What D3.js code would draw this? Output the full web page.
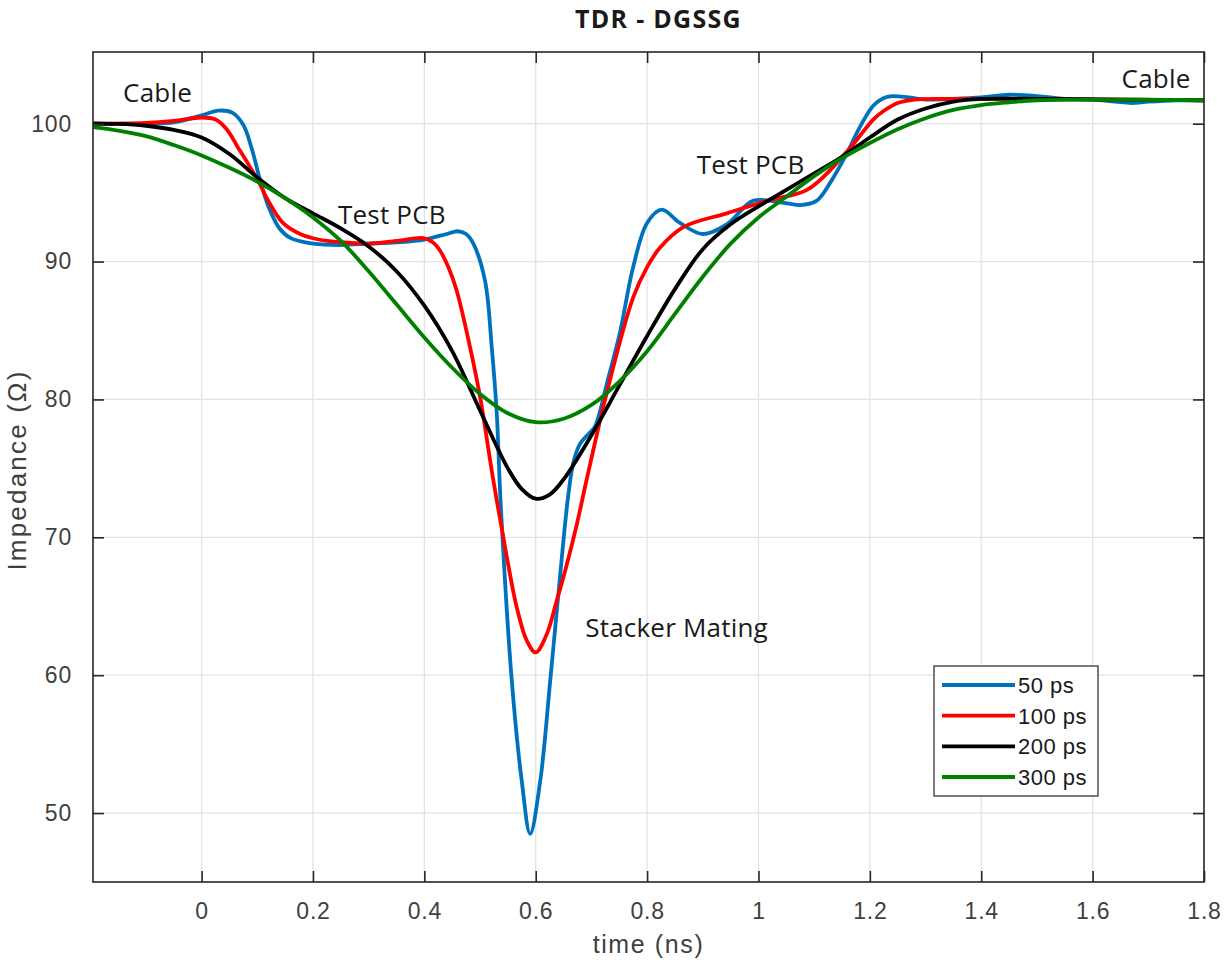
<!DOCTYPE html>
<html><head><meta charset="utf-8">
<script src="https://cdn.jsdelivr.net/npm/d3@7"></script>
<style>
html,body{margin:0;padding:0;background:#fff;}
svg{display:block;}
</style></head>
<body>
<script>
// ---- data ----
const seriesNames = ["50 ps", "100 ps", "200 ps", "300 ps"];
const seriesColors = ["#0072BD", "#FF0000", "#000000", "#008000"];

const t50 = [-0.195,-0.1,-0.05,0,0.03,0.055,0.075,0.09,0.105,0.12,0.14,0.16,0.2,0.25,0.3,0.35,0.4,0.44,0.46,0.475,0.488,0.509,0.521,0.53,0.537,0.557,0.575,0.59,0.608,0.626,0.643,0.658,0.668,0.68,0.695,0.706,0.73,0.751,0.775,0.8,0.826,0.859,0.9,0.943,0.99,1.039,1.075,1.104,1.13,1.158,1.182,1.206,1.224,1.24,1.27,1.3,1.35,1.4,1.45,1.5,1.55,1.6,1.64,1.67,1.7,1.75,1.8];
const z50 = [100,100,100.1,100.6,100.95,100.8,99.9,98.2,95.9,94.0,92.4,91.7,91.3,91.2,91.3,91.4,91.6,92.0,92.2,92.0,91.3,88.6,83.8,79.0,72.5,59.6,52.3,48.5,52.3,59.6,66.9,72.9,75.5,76.8,77.5,78.0,81.5,84.8,89.6,92.8,93.76,92.8,92.0,92.7,94.4,94.3,94.1,94.4,95.8,97.8,99.75,101.3,101.85,102.0,101.9,101.75,101.8,101.9,102.1,102.0,101.8,101.75,101.6,101.5,101.6,101.7,101.7];

const t100 = [-0.195,-0.1,-0.05,0,0.025,0.045,0.065,0.087,0.105,0.117,0.146,0.177,0.21,0.25,0.3,0.35,0.398,0.415,0.428,0.443,0.458,0.482,0.5,0.524,0.548,0.566,0.584,0.6,0.619,0.637,0.655,0.673,0.691,0.727,0.775,0.8,0.823,0.865,0.943,1.015,1.087,1.134,1.15,1.164,1.206,1.224,1.25,1.28,1.35,1.5,1.65,1.8];
const z100 = [100,100.05,100.2,100.45,100.3,99.6,98.3,96.85,95.6,94.6,92.8,92.0,91.6,91.4,91.3,91.5,91.7,91.4,90.8,89.6,87.9,83.8,80.2,74.1,68.6,64.9,62.5,61.65,62.9,65.3,67.9,70.8,74.1,80.4,87.4,89.6,91.0,92.5,93.5,94.4,95.2,96.85,97.6,98.2,100.3,100.9,101.5,101.75,101.8,101.8,101.75,101.7];

const t200 = [-0.195,-0.15,-0.1,-0.05,0,0.05,0.1,0.15,0.2,0.25,0.3,0.35,0.4,0.45,0.5,0.55,0.575,0.6,0.625,0.65,0.7,0.75,0.8,0.85,0.9,0.95,1.0,1.05,1.1,1.15,1.2,1.25,1.3,1.35,1.4,1.5,1.65,1.8];
const z200 = [100,99.98,99.85,99.55,99.0,97.8,96.1,94.6,93.5,92.4,91.1,89.3,86.8,83.5,79.2,75.0,73.5,72.8,73.1,74.2,77.4,81.0,84.6,88.0,90.9,92.7,94.0,95.2,96.4,97.6,99.0,100.3,101.1,101.6,101.8,101.8,101.75,101.7];

const t300 = [-0.195,-0.15,-0.1,-0.05,0,0.05,0.1,0.15,0.2,0.25,0.3,0.35,0.4,0.45,0.5,0.55,0.6,0.65,0.7,0.75,0.8,0.85,0.9,0.95,1.0,1.05,1.1,1.15,1.2,1.25,1.3,1.35,1.4,1.45,1.5,1.6,1.8];
const z300 = [99.75,99.5,99.1,98.45,97.7,96.8,95.8,94.6,93.2,91.5,89.3,86.9,84.5,82.3,80.4,79.0,78.35,78.6,79.6,81.3,83.5,86.2,88.9,91.3,93.2,94.7,96.2,97.5,98.6,99.6,100.4,101.0,101.35,101.55,101.7,101.75,101.7];

const xTicks = [0,0.2,0.4,0.6,0.8,1,1.2,1.4,1.6,1.8];
const yTicks = [50,60,70,80,90,100];
const xDomain = [-0.195, 1.8];
const yDomain = [45, 105.2];

const annText = ["Cable","Test PCB","Test PCB","Stacker Mating","Cable"];
const annT = [-0.141, 0.245, 0.889, 0.689, 1.652];
const annZ = [101.57, 92.73, 96.35, 62.78, 102.59];

const titleText = "TDR - DGSSG";
const xLabel = "time (ns)";
const yLabel = "Impedance (\u03A9)";

// ---- drawing ----
const W = 1231, H = 964;
const L = 93, R = 1204, T = 52, B = 882;
const svg = d3.select("body").append("svg").attr("width", W).attr("height", H);

const x = d3.scaleLinear().domain(xDomain).range([L, R]);
const y = d3.scaleLinear().domain(yDomain).range([B, T]);

const tickFont = "'Liberation Sans', Arial, sans-serif";
const axisCol = "#262626";

// grid
const grid = svg.append("g");
grid.selectAll("line.gx").data(xTicks).join("line")
  .attr("x1", d => x(d)).attr("x2", d => x(d)).attr("y1", T).attr("y2", B)
  .attr("stroke", "#e3e3e3").attr("stroke-width", 1.3);
grid.selectAll("line.gy").data(yTicks).join("line")
  .attr("y1", d => y(d)).attr("y2", d => y(d)).attr("x1", L).attr("x2", R)
  .attr("stroke", "#e3e3e3").attr("stroke-width", 1.3);

// lines
const allT = [t50, t100, t200, t300];
const allZ = [z50, z100, z200, z300];
const line = d3.line().x(d => x(d[0])).y(d => y(d[1])).curve(d3.curveCatmullRom.alpha(0.5));
const clip = svg.append("clipPath").attr("id", "clip").append("rect")
  .attr("x", L).attr("y", T).attr("width", R - L).attr("height", B - T);
const lines = svg.append("g").attr("clip-path", "url(#clip)");
allT.forEach((ts, i) => {
  const pts = ts.map((t, j) => [t, allZ[i][j]]);
  lines.append("path").datum(pts).attr("d", line)
    .attr("fill", "none").attr("stroke", seriesColors[i])
    .attr("stroke-width", 3.8).attr("stroke-linejoin", "round").attr("stroke-linecap", "round");
});

// axes (box with inward ticks)
const tl = 11;
const axB = d3.axisBottom(x).tickValues(xTicks).tickSize(-tl).tickPadding(tl + 10).tickFormat(d3.format("~g"));
const axT = d3.axisTop(x).tickValues(xTicks).tickSize(-tl).tickFormat("");
const axL = d3.axisLeft(y).tickValues(yTicks).tickSize(-tl).tickPadding(tl + 10).tickFormat(d3.format("~g"));
const axR = d3.axisRight(y).tickValues(yTicks).tickSize(-tl).tickFormat("");
function styleAxis(g) {
  g.select(".domain").attr("stroke", axisCol).attr("stroke-width", 1.6);
  g.selectAll(".tick line").attr("stroke", axisCol).attr("stroke-width", 1.6);
  g.selectAll(".tick text").attr("fill", "#404040").style("font-family", tickFont).style("font-size", "23px").style("letter-spacing", "0.8px");
}
svg.append("g").attr("transform", `translate(0,${B})`).call(axB).call(styleAxis);
svg.append("g").attr("transform", `translate(0,${T})`).call(axT).call(styleAxis);
svg.append("g").attr("transform", `translate(${L},0)`).call(axL).call(styleAxis);
svg.append("g").attr("transform", `translate(${R},0)`).call(axR).call(styleAxis);
svg.selectAll(".domain").attr("d", null);
svg.append("rect").attr("x", L).attr("y", T).attr("width", R - L).attr("height", B - T)
  .attr("fill", "none").attr("stroke", axisCol).attr("stroke-width", 1.6);

// labels
svg.append("text").attr("x", (L + R) / 2 + 10).attr("y", 28).attr("text-anchor", "middle")
  .style("font-family", "'Open Sans', sans-serif").style("font-weight", "bold")
  .style("font-size", "25px").style("letter-spacing", "1.3px").attr("fill", "#1a1a1a").text(titleText);
svg.append("text").attr("x", (L + R) / 2).attr("y", 953).attr("text-anchor", "middle")
  .style("font-family", tickFont).style("font-size", "25px").style("letter-spacing", "1.6px")
  .attr("fill", "#404040").text(xLabel);
svg.append("text").attr("transform", `translate(26,${(T + B) / 2 + 3}) rotate(-90)`).attr("text-anchor", "middle")
  .style("font-family", tickFont).style("font-size", "26px").style("letter-spacing", "2.2px")
  .attr("fill", "#404040").text(yLabel);

// annotations
svg.append("g").selectAll("text").data(annText).join("text")
  .attr("x", (d, i) => x(annT[i])).attr("y", (d, i) => y(annZ[i]))
  .style("font-family", "'Open Sans', sans-serif").style("font-size", "26px").style("letter-spacing", "0.2px")
  .attr("fill", "#1a1a1a").text(d => d);

// legend
const lg = svg.append("g");
lg.append("rect").attr("x", 934).attr("y", 666).attr("width", 164).attr("height", 130)
  .attr("fill", "#fff").attr("stroke", axisCol).attr("stroke-width", 1.2);
const rowY = d3.scalePoint().domain(seriesNames).range([685, 777]);
seriesNames.forEach((n, i) => {
  lg.append("line").attr("x1", 942).attr("x2", 1015).attr("y1", rowY(n)).attr("y2", rowY(n))
    .attr("stroke", seriesColors[i]).attr("stroke-width", 3.8);
  lg.append("text").attr("x", 1018).attr("y", rowY(n) + 8)
    .style("font-family", tickFont).style("font-size", "22px").style("letter-spacing", "0.5px")
    .attr("fill", "#1a1a1a").text(n);
});
</script>
</body></html>
